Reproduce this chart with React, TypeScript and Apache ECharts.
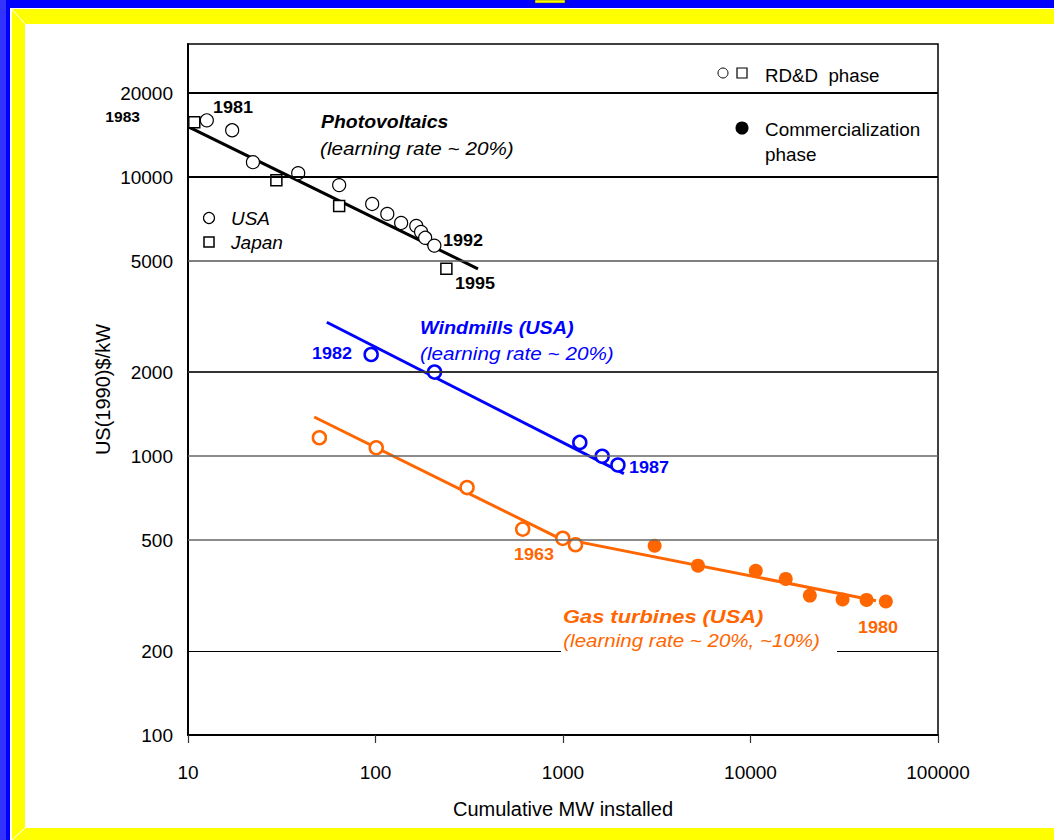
import React, { useEffect, useRef } from "react";
import * as echarts from "echarts";

// ---- data ----
const pvUsaX = [12.6, 17.2, 22.2, 38.7, 64, 96, 115.6, 137, 165, 175, 184, 206];
const pvUsaY = [15980, 14720, 11310, 10330, 9360, 8010, 7380, 6850, 6680, 6360, 6060, 5680];
const pvJapanX = [10.8, 29.6, 64, 238.8];
const pvJapanY = [15710, 9750, 7870, 4690];
const pvFitX = [10, 352];
const pvFitY = [15170, 4690];

const windX = [94.8, 206.5, 1229, 1618, 1963];
const windY = [2312, 2000, 1119, 998, 929];
const windFitX = [55, 2112];
const windFitY = [3018, 865];

const gasOpenX = [50.2, 100.9, 307.8, 609.6, 997, 1166];
const gasOpenY = [1163, 1071, 771, 547, 507, 481];
const gasFilledX = [3081, 5248, 10670, 15420, 20730, 30970, 41590, 52720];
const gasFilledY = [477, 404.6, 388, 362.7, 316, 306, 305, 301];
const gasFitX = [47.1, 946, 46700];
const gasFitY = [1380, 509, 303];

const yTickValues = [100, 200, 500, 1000, 2000, 5000, 10000, 20000];
const yTickLabels = ["100", "200", "500", "1000", "2000", "5000", "10000", "20000"];
const xTickLabels = ["10", "100", "1000", "10000", "100000"];

const FONT = 'Arial, "Liberation Sans", Helvetica, sans-serif';
const BLUE = "#0000ff";
const ORANGE = "#ff6600";

const zip = (xs: number[], ys: number[]) => xs.map((x, i) => [x, ys[i]]);

const gridStyle: Record<number, { color: string; width: number }> = {
  100: { color: "transparent", width: 0 },
  200: { color: "#000", width: 1 },
  500: { color: "#666", width: 1.5 },
  1000: { color: "#666", width: 1.5 },
  2000: { color: "#333", width: 2 },
  5000: { color: "#555", width: 1.5 },
  10000: { color: "#000", width: 2 },
  20000: { color: "#000", width: 2 },
};

function txt(
  text: string,
  x: number,
  y: number,
  opts: {
    size?: number;
    weight?: string;
    italic?: boolean;
    color?: string;
    align?: string;
    bg?: string;
    padding?: number[];
    sx?: number;
  } = {}
) {
  return {
    type: "text",
    x,
    y,
    z: 100,
    scaleX: opts.sx || 1,
    style: {
      text,
      fill: opts.color || "#000",
      font: `${opts.italic ? "italic " : ""}${opts.weight || "normal"} ${opts.size || 16}px ${FONT}`,
      textAlign: opts.align || "left",
      textVerticalAlign: "middle",
      backgroundColor: opts.bg,
      padding: opts.padding,
    },
  };
}

export default function App() {
  const ref = useRef<HTMLDivElement>(null);

  useEffect(() => {
    if (!ref.current) return;
    const chart = echarts.init(ref.current, null, { renderer: "svg" });

    const frame = [
      { type: "rect", shape: { x: 0, y: 0, width: 6, height: 840 }, style: { fill: "#3333ff" }, z: 50 },
      { type: "rect", shape: { x: 6, y: 0, width: 4, height: 840 }, style: { fill: "#0000ff" }, z: 50 },
      { type: "rect", shape: { x: 6, y: 0, width: 1048, height: 8 }, style: { fill: "#0000ff" }, z: 50 },
      { type: "rect", shape: { x: 535, y: 0, width: 30, height: 3 }, style: { fill: "#ffff00", stroke: "#333", lineWidth: 0.5 }, z: 51 },
      { type: "polygon", shape: { points: [[12, 9], [1054, 9], [1054, 24], [25, 24]] }, style: { fill: "#ffff00" }, z: 50 },
      { type: "polygon", shape: { points: [[12, 9], [25, 24], [25, 828], [12, 840]] }, style: { fill: "#ffff00" }, z: 50 },
      { type: "polygon", shape: { points: [[25, 828], [1054, 828], [1054, 840], [12, 840]] }, style: { fill: "#ffff00" }, z: 50 },
      { type: "line", shape: { x1: 11, y1: 8, x2: 25, y2: 24 }, style: { stroke: "#fff", lineWidth: 1 }, z: 52 },
      { type: "line", shape: { x1: 12, y1: 840, x2: 25, y2: 828 }, style: { stroke: "#fff", lineWidth: 1 }, z: 52 },
    ];

    const yr = { size: 17, weight: "bold", sx: 1.06 };
    const annotations = [
      txt("1981", 213, 107, yr),
      txt("1983", 140, 117, { size: 15, weight: "bold", align: "right", sx: 1.04 }),
      txt("Photovoltaics", 321, 122, { size: 18, weight: "bold", italic: true, sx: 1.08 }),
      txt("(learning rate ~ 20%)", 320, 149, { size: 18, italic: true, sx: 1.15 }),
      { type: "circle", shape: { cx: 209, cy: 218, r: 5.5 }, style: { fill: "#fff", stroke: "#000", lineWidth: 1.2 }, z: 100 },
      { type: "rect", shape: { x: 204, y: 237, width: 10, height: 10 }, style: { fill: "#fff", stroke: "#000", lineWidth: 1.5 }, z: 100 },
      txt("USA", 231, 219, { size: 18, italic: true, sx: 1.05 }),
      txt("Japan", 231, 243, { size: 18, italic: true, sx: 1.06 }),
      txt("1992", 443, 240, yr),
      txt("1995", 455, 283, yr),
      txt("Windmills (USA)", 420, 328, { size: 18, weight: "bold", italic: true, color: BLUE, sx: 1.1 }),
      txt("(learning rate ~ 20%)", 420, 354, { size: 18, italic: true, color: BLUE, sx: 1.15 }),
      txt("1982", 352, 353, { ...yr, align: "right", color: BLUE }),
      txt("1987", 629, 467, { ...yr, color: BLUE }),
      txt("1963", 514, 554, { ...yr, color: ORANGE }),
      txt("Gas turbines (USA)", 563, 616, { size: 19, weight: "bold", italic: true, color: ORANGE, sx: 1.15 }),
      txt("(learning rate ~ 20%, ~10%)", 561, 641, { size: 18, italic: true, color: ORANGE, bg: "#fff", padding: [2, 15, 2, 2], sx: 1.14 }),
      txt("1980", 858, 627, { ...yr, color: ORANGE }),
      { type: "circle", shape: { cx: 723, cy: 73, r: 5 }, style: { fill: "#fff", stroke: "#000", lineWidth: 1 }, z: 100 },
      { type: "rect", shape: { x: 737, y: 68, width: 10, height: 10 }, style: { fill: "#fff", stroke: "#000", lineWidth: 1.2 }, z: 100 },
      txt("RD&D  phase", 765, 76, { size: 18, sx: 1.04 }),
      { type: "circle", shape: { cx: 742, cy: 128, r: 6.5 }, style: { fill: "#000" }, z: 100 },
      txt("Commercialization", 765, 130, { size: 18, sx: 1.05 }),
      txt("phase", 765, 155, { size: 18, sx: 1.05 }),
    ];

    const option: any = {
      animation: false,
      backgroundColor: "#fff",
      textStyle: { fontFamily: FONT },
      grid: { left: 188, top: 44, width: 750, height: 691, show: true, borderColor: "#000", borderWidth: 1.5, backgroundColor: "transparent" },
      xAxis: {
        type: "log",
        logBase: 10,
        min: 10,
        max: 100000,
        name: "Cumulative MW installed",
        nameLocation: "middle",
        nameGap: 64,
        nameTextStyle: { fontSize: 20, color: "#000", fontFamily: FONT },
        axisLine: { lineStyle: { color: "#000", width: 2 } },
        axisTick: { show: true, inside: false, length: 8, lineStyle: { color: "#333", width: 1.2 } },
        axisLabel: { color: "#000", fontSize: 19, margin: 28, fontFamily: FONT, formatter: (v: number) => xTickLabels[Math.round(Math.log10(v)) - 1] ?? String(v) },
        splitLine: { show: false },
      },
      yAxis: {
        type: "log",
        logBase: 10,
        min: 100,
        max: 30000,
        name: "US(1990)$/kW",
        nameLocation: "middle",
        nameGap: 75,
        nameTextStyle: { fontSize: 20, color: "#000", fontFamily: FONT },
        axisLine: { lineStyle: { color: "#000", width: 2 } },
        axisTick: { show: false },
        axisLabel: { show: false },
        splitLine: { show: false },
      },
      graphic: [...frame, ...annotations],
      series: [
        {
          type: "line",
          data: [[10, 100]],
          symbol: "none",
          silent: true,
          z: 1,
          lineStyle: { width: 0 },
          markLine: {
            silent: true,
            symbol: ["none", "none"],
            animation: false,
            data: yTickValues.map((v, i) => ({
              yAxis: v,
              lineStyle: { type: "solid", color: gridStyle[v].color, width: gridStyle[v].width },
              label: {
                show: true,
                position: "start",
                distance: 15,
                formatter: () => yTickLabels[i],
                color: "#000",
                fontSize: 19,
                fontFamily: FONT,
              },
            })),
          },
        },
        { type: "line", data: zip(pvFitX, pvFitY), symbol: "none", lineStyle: { color: "#000", width: 3 }, z: 3 },
        { type: "line", data: zip(windFitX, windFitY), symbol: "none", lineStyle: { color: BLUE, width: 3 }, z: 3 },
        { type: "line", data: zip(gasFitX, gasFitY), symbol: "none", lineStyle: { color: ORANGE, width: 3 }, z: 3 },
        { type: "scatter", data: zip(pvUsaX, pvUsaY), symbol: "circle", symbolSize: 13, itemStyle: { color: "#fff", borderColor: "#000", borderWidth: 1.2, opacity: 1 }, z: 4 },
        { type: "scatter", data: zip(pvJapanX, pvJapanY), symbol: "rect", symbolSize: 11, itemStyle: { color: "#fff", borderColor: "#000", borderWidth: 1.5, opacity: 1 }, z: 4 },
        { type: "scatter", data: zip(windX, windY), symbol: "circle", symbolSize: 13, itemStyle: { color: "#fff", borderColor: BLUE, borderWidth: 2.5, opacity: 1 }, z: 4 },
        { type: "scatter", data: zip(gasOpenX, gasOpenY), symbol: "circle", symbolSize: 13, itemStyle: { color: "#fff", borderColor: ORANGE, borderWidth: 2.5, opacity: 1 }, z: 4 },
        { type: "scatter", data: zip(gasFilledX, gasFilledY), symbol: "circle", symbolSize: 14, itemStyle: { color: ORANGE, opacity: 1 }, z: 4 },
      ],
    };

    chart.setOption(option);
    return () => chart.dispose();
  }, []);

  return (
    <div
      ref={ref}
      style={{ position: "absolute", left: 0, top: 0, width: 1054, height: 840, background: "#fff" }}
    />
  );
}
